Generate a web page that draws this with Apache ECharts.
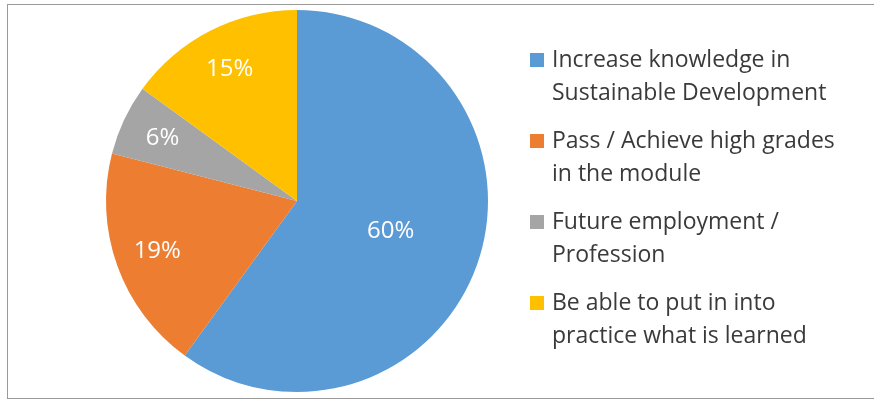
<!DOCTYPE html>
<html>
<head>
<meta charset="utf-8">
<script src="https://cdn.jsdelivr.net/npm/echarts@6/dist/echarts.min.js"></script>
<style>
  html, body { margin: 0; padding: 0; background: #fff; }
  #chart { position: absolute; left: 0; top: 0; width: 874px; height: 402px; }
  #frame { position: absolute; left: 7px; top: 4px; width: 868px; height: 395px; border: 1.5px solid #9a9a9a; box-sizing: border-box; pointer-events: none; }
</style>
</head>
<body>
<div id="chart"></div>
<div id="frame"></div>
<script>
const categories = [
  "Increase knowledge in\nSustainable Development",
  "Pass / Achieve high grades\nin the module",
  "Future employment /\nProfession",
  "Be able to put in into\npractice what is learned"
];
const values = [60, 19, 6, 15];
const colors = ["#5B9BD5", "#ED7D31", "#A5A5A5", "#FFC000"];

const FONT = "'Open Sans', 'Noto Sans', sans-serif";
const chart = echarts.init(document.getElementById('chart'), null, { renderer: 'canvas' });

const mainData = categories.map((name, i) => ({
  name: name,
  value: values[i],
  itemStyle: { color: colors[i] },
  label: { show: i === 0 }
}));
const labelData = categories.map((name, i) => ({
  name: name,
  value: values[i],
  label: { show: i !== 0 }
}));

const labelCommon = {
  position: 'inside',
  formatter: p => p.value + '%',
  color: '#ffffff',
  fontFamily: FONT,
  fontSize: 24
};

chart.setOption({
  animation: false,
  legend: {
    orient: 'vertical',
    left: 530,
    top: 44,
    padding: 0,
    itemGap: 15,
    itemWidth: 17,
    itemHeight: 48,
    icon: 'path://M0,0h14v14h-14zM0,48M17,0',
    selectedMode: false,
    data: categories,
    textStyle: {
      fontFamily: FONT,
      fontSize: 23,
      lineHeight: 33,
      color: '#3a3a3a'
    }
  },
  series: [
    {
      type: 'pie',
      center: [297, 201],
      radius: [0, 191],
      startAngle: 90,
      clockwise: true,
      silent: true,
      label: labelCommon,
      labelLine: { show: false },
      itemStyle: { borderWidth: 0 },
      data: mainData
    },
    {
      type: 'pie',
      center: [297, 201],
      radius: [100, 191],
      startAngle: 90,
      clockwise: true,
      silent: true,
      label: labelCommon,
      labelLine: { show: false },
      itemStyle: { color: 'rgba(0,0,0,0)', borderWidth: 0 },
      data: labelData
    }
  ]
});
</script>
</body>
</html>
